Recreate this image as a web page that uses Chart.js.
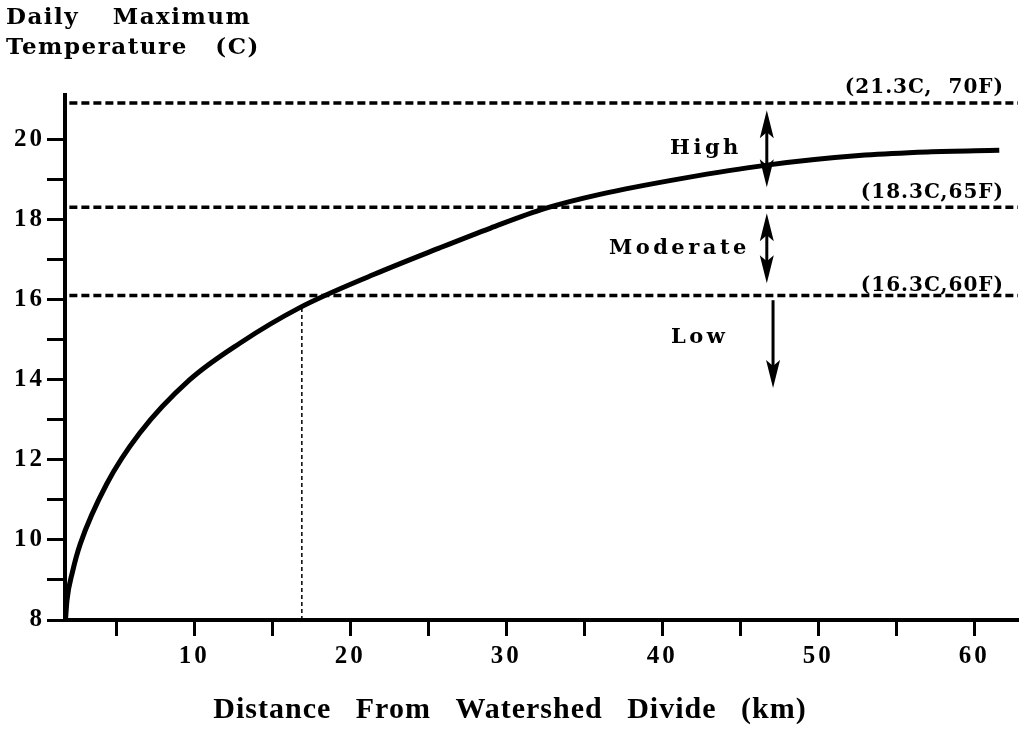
<!DOCTYPE html>
<html>
<head>
<meta charset="utf-8">
<script src="https://cdn.jsdelivr.net/npm/chart.js@4.4.1/dist/chart.umd.min.js"></script>
<style>
  html, body { margin: 0; padding: 0; background: #fff; }
</style>
</head>
<body>
<canvas id="chart" width="1021" height="742"></canvas>
<script>
// curve (km, deg C)
const distanceKm = [1.75, 1.85, 2.2, 2.7, 4.4, 6.5, 9.7, 12.9, 16.8, 21.5, 25.7, 29, 32.5, 36, 41.3, 46.7, 53, 57, 61.6];
const maxTempC   = [8.0, 8.5, 9.2, 9.9, 11.4, 12.66, 13.99, 14.9, 15.8, 16.62, 17.28, 17.78, 18.27, 18.62, 19.02, 19.35, 19.6, 19.68, 19.72];

const xTickValues = [5, 10, 15, 20, 25, 30, 35, 40, 45, 50, 55, 60];
const xTickLabels = ['', '10', '', '20', '', '30', '', '40', '', '50', '', '60'];
const yTickValues = [8, 9, 10, 11, 12, 13, 14, 15, 16, 17, 18, 19, 20];
const yTickLabels = ['8', '', '10', '', '12', '', '14', '', '16', '', '18', '', '20'];

// threshold lines and their labels
const thresholdTemps  = [20.9, 18.3, 16.1];
const thresholdSpan   = [2.0, 62.8];
const thresholdLabels = ['(21.3C,  70F)', '(18.3C,65F)', '(16.3C,60F)'];
const thresholdLabelY = [21.27, 18.67, 16.35];
const thresholdLabelX = 61.9;

// dotted drop line from the curve to the axis
const markerDistance = 16.9;
const markerTemps = [8, 15.85];

// class labels and arrows
const classNames  = ['High', 'Moderate', 'Low'];
const classLabelX = [42.8, 41.1, 42.4];
const classLabelY = [19.77, 17.28, 15.06];
const arrowX      = [46.7, 46.7, 47.1];
const arrowFrom   = [20.72, 18.15, 15.98];
const arrowTo     = [18.8, 16.4, 13.79];
const arrowBoth   = [true, true, false];

const dashedSets = thresholdTemps.map(t => ({
  data: thresholdSpan.map(x => ({ x: x, y: t })),
  borderColor: '#000',
  borderWidth: 3.5,
  borderDash: [8, 4],
  pointRadius: 0,
  fill: false
}));

const tickFont = { family: 'Liberation Serif', weight: 'bold', size: 25 };

function drawText(ctx, str, x, y, font, align, spacing, wordSpacing) {
  ctx.save();
  ctx.font = font;
  ctx.letterSpacing = spacing + 'px';
  if (wordSpacing) ctx.wordSpacing = wordSpacing + 'px';
  ctx.textAlign = align;
  ctx.textBaseline = 'middle';
  ctx.fillStyle = '#000';
  ctx.fillText(str, x, y);
  ctx.restore();
}

function arrowHead(ctx, x, tipY, dir) {
  // dir -1 points up, +1 points down
  ctx.beginPath();
  ctx.moveTo(x, tipY);
  ctx.lineTo(x - 7, tipY - dir * 28);
  ctx.lineTo(x, tipY - dir * 22);
  ctx.lineTo(x + 7, tipY - dir * 28);
  ctx.closePath();
  ctx.fill();
}

const annotations = {
  id: 'annotations',
  beforeDraw(chart) {
    chart.ctx.letterSpacing = '3px';
  },
  afterDraw(chart) {
    const ctx = chart.ctx;
    const xs = chart.scales.x, ys = chart.scales.y;

    ctx.save();
    ctx.letterSpacing = '0px';
    ctx.strokeStyle = '#000';
    ctx.fillStyle = '#000';
    ctx.lineWidth = 3;
    classNames.forEach((name, i) => {
      const px = xs.getPixelForValue(arrowX[i]);
      const y1 = ys.getPixelForValue(arrowFrom[i]);
      const y2 = ys.getPixelForValue(arrowTo[i]);
      ctx.beginPath();
      ctx.moveTo(px, y1 + (arrowBoth[i] ? 10 : 0));
      ctx.lineTo(px, y2 - 10);
      ctx.stroke();
      if (arrowBoth[i]) arrowHead(ctx, px, y1, -1);
      arrowHead(ctx, px, y2, 1);
      drawText(ctx, name, xs.getPixelForValue(classLabelX[i]), ys.getPixelForValue(classLabelY[i]),
        'bold 21px "DejaVu Serif"', 'center', 3.5);
    });
    ctx.restore();

    thresholdLabels.forEach((lab, i) => {
      drawText(ctx, lab, xs.getPixelForValue(thresholdLabelX), ys.getPixelForValue(thresholdLabelY[i]),
        'bold 20px "DejaVu Serif"', 'right', 1);
    });

    drawText(ctx, 'Daily Maximum', 6, 18, 'bold 23px "DejaVu Serif"', 'left', 1.5, 24);
    drawText(ctx, 'Temperature (C)', 6, 48, 'bold 23px "DejaVu Serif"', 'left', 1.5, 18);
    drawText(ctx, 'Distance From Watershed Divide (km)', 510, 710, 'bold 30px "Liberation Serif"', 'center', 1, 16);
  }
};

new Chart(document.getElementById('chart'), {
  type: 'line',
  data: {
    datasets: [
      {
        data: distanceKm.map((d, i) => ({ x: d, y: maxTempC[i] })),
        borderColor: '#000',
        borderWidth: 5,
        pointRadius: 0,
        cubicInterpolationMode: 'monotone',
        fill: false
      },
      {
        data: markerTemps.map(t => ({ x: markerDistance, y: t })),
        borderColor: '#000',
        borderWidth: 1.5,
        borderDash: [4, 3],
        pointRadius: 0,
        fill: false
      },
      ...dashedSets
    ]
  },
  options: {
    responsive: false,
    animation: false,
    layout: { padding: { top: 95, right: 3, left: 0, bottom: 0 } },
    plugins: { legend: { display: false }, tooltip: { enabled: false } },
    scales: {
      x: {
        type: 'linear',
        min: 1.72,
        max: 62.8,
        afterBuildTicks: axis => { axis.ticks = xTickValues.map(v => ({ value: v })); },
        afterFit: axis => { axis.height = 122; },
        border: { color: '#000', width: 4 },
        grid: { drawOnChartArea: false, drawTicks: true, tickLength: 16, tickWidth: 3, color: '#000' },
        ticks: {
          callback: v => xTickLabels[xTickValues.indexOf(v)],
          font: tickFont, color: '#000', padding: 6, maxRotation: 0, autoSkip: false
        }
      },
      y: {
        type: 'linear',
        min: 8,
        max: 21.1,
        afterBuildTicks: axis => { axis.ticks = yTickValues.map(v => ({ value: v })); },
        afterFit: axis => { axis.width = 65; },
        border: { color: '#000', width: 4 },
        grid: { drawOnChartArea: false, drawTicks: true, tickLength: 18, tickWidth: 3, color: '#000' },
        ticks: {
          callback: v => yTickLabels[yTickValues.indexOf(v)],
          font: tickFont, color: '#000', padding: 2, autoSkip: false
        }
      }
    }
  },
  plugins: [annotations]
});
</script>
</body>
</html>
